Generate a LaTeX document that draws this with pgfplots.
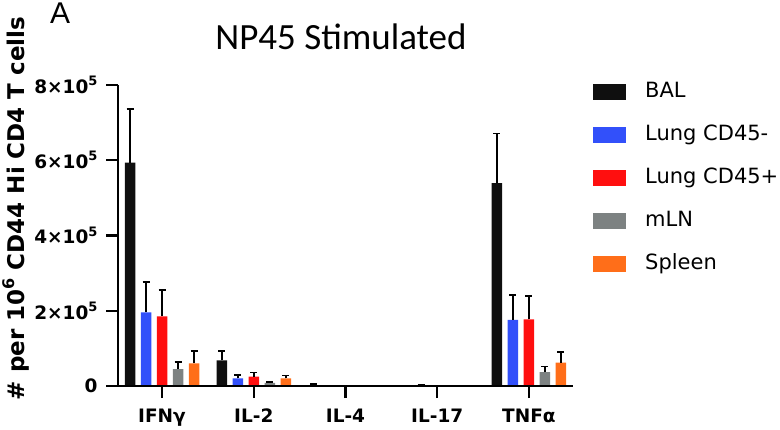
\documentclass[border=0pt]{standalone}
\usepackage{fontspec}
\setmainfont{DejaVu Sans}
\newfontfamily\titlefont{Carlito}
\newfontfamily\arialfont{Liberation Sans}
\usepackage{pgfplots}
\pgfplotsset{compat=1.18}
\usepackage{pgfplotstable}
\definecolor{cBAL}{RGB}{15,15,15}
\definecolor{cNeg}{RGB}{50,80,250}
\definecolor{cPos}{RGB}{255,15,15}
\definecolor{cMLN}{RGB}{125,130,130}
\definecolor{cSpl}{RGB}{255,110,25}
\newcommand{\supn}[1]{\raisebox{0.42em}{\fontsize{13bp}{13bp}\selectfont #1}}
\newcommand{\supl}[1]{\raisebox{0.42em}{\fontsize{16bp}{16bp}\selectfont #1}}

\pgfplotstableread{
x y e
0 594000 142000
1 68000 24000
2 1500 4500
3 300 0
4 539000 132000
}\tBAL
\pgfplotstableread{
x y e
0 196000 80000
1 20000 10000
2 300 0
3 700 1800
4 176000 66000
}\tNeg
\pgfplotstableread{
x y e
0 185000 71000
1 25000 11000
2 300 0
3 300 0
4 177000 62000
}\tPos
\pgfplotstableread{
x y e
0 45000 19000
1 8000 3000
2 300 0
3 300 0
4 37000 15000
}\tMLN
\pgfplotstableread{
x y e
0 60000 32000
1 20000 8000
2 300 0
3 300 0
4 62000 29000
}\tSpl

\begin{document}
\begin{tikzpicture}
\useasboundingbox (0,0) rectangle (780bp,430bp);
\node[anchor=base west, inner sep=0, font=\arialfont\fontsize{30bp}{32bp}\selectfont] at (50bp,406bp) {A};
\begin{axis}[
  at={(118bp,44bp)}, anchor=south west,
  scale only axis, width=455bp, height=301bp,
  xmin=-0.48, xmax=4.48, ymin=0, ymax=800000,
  axis x line*=bottom, axis y line*=left,
  axis line style={-, line width=2.4bp, black},
  axis on top,
  xtick={0,1,2,3,4},
  xticklabels={IFNγ, IL-2, IL-4, IL-17, TNFα},
  ytick={0,200000,400000,600000,800000},
  yticklabels={0, 2×10\supn{5}, 4×10\supn{5}, 6×10\supn{5}, 8×10\supn{5}},
  scaled y ticks=false,
  tick align=outside, major tick length=12bp,
  tick style={line width=2.2bp, black},
  ticklabel style={font=\bfseries\fontsize{18.5bp}{20bp}\selectfont},
  xticklabel style={yshift=-7bp},
  yticklabel style={xshift=-5bp},
  ylabel={\# per 10\supl{6} CD44 Hi CD4 T cells},
  ylabel style={font=\bfseries\fontsize{23bp}{25bp}\selectfont, at={(axis description cs:-0.224,0.59)}, anchor=center},
  title={NP45 Stimulated},
  title style={font=\titlefont\fontsize{37bp}{40bp}\selectfont, at={(axis description cs:0.49,1)}, anchor=base, yshift=30bp},
  ybar, bar width=10.5bp,
  legend image code/.code={\fill[#1] (0bp,-8bp) rectangle (33bp,8bp);},
  legend style={draw=none, fill=none, at={(axis description cs:1.044,1.01)}, anchor=north west,
    font=\fontsize{21bp}{22bp}\selectfont, inner sep=0, row sep=23bp,
    nodes={inner sep=0, text height=15bp, text depth=5bp, anchor=west},
    /tikz/every odd column/.style={column sep=19bp}},
  legend cell align=left,
  error bars/error bar style={line width=1.8bp, black, solid},
  error bars/error mark options={line width=1.8bp, black, mark size=3.5bp, rotate=90},
]
\addplot[fill=cBAL, draw=none, bar shift=-32bp, error bars/.cd, y dir=plus, y explicit] table[x=x,y=y,y error=e]{\tBAL};
\addlegendentry{BAL}
\addplot[fill=cNeg, draw=none, bar shift=-16bp, error bars/.cd, y dir=plus, y explicit] table[x=x,y=y,y error=e]{\tNeg};
\addlegendentry{Lung CD45-}
\addplot[fill=cPos, draw=none, bar shift=0bp, error bars/.cd, y dir=plus, y explicit] table[x=x,y=y,y error=e]{\tPos};
\addlegendentry{Lung CD45+}
\addplot[fill=cMLN, draw=none, bar shift=16bp, error bars/.cd, y dir=plus, y explicit] table[x=x,y=y,y error=e]{\tMLN};
\addlegendentry{mLN}
\addplot[fill=cSpl, draw=none, bar shift=32bp, error bars/.cd, y dir=plus, y explicit] table[x=x,y=y,y error=e]{\tSpl};
\addlegendentry{Spleen}
\end{axis}
\end{tikzpicture}
\end{document}
